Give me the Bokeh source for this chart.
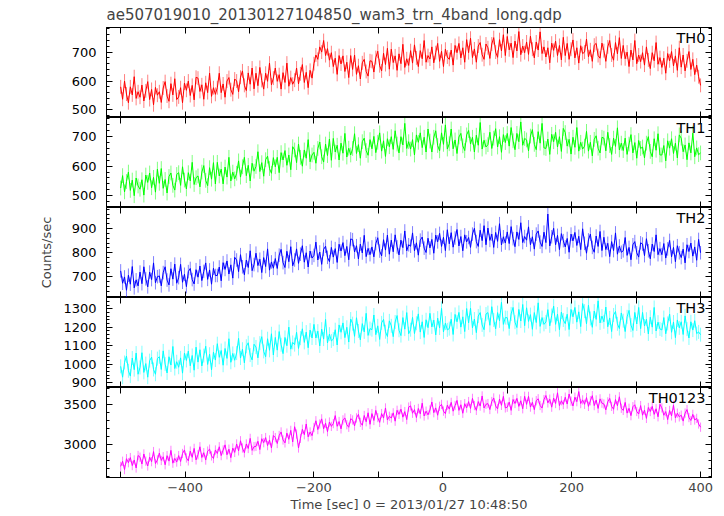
from bokeh.plotting import figure
from bokeh.models import Range1d, LinearAxis, SingleIntervalTicker, Label, CustomJSTickFormatter
from bokeh.layouts import column
from bokeh.embed import file_html
from bokeh.resources import INLINE

title_text = "ae507019010_20130127104850_wam3_trn_4band_long.qdp"
x_label = "Time [sec] 0 = 2013/01/27 10:48:50"
y_label = "Counts/sec"

# time bins (sec), 3 s steps from -500 to 400
time = list(range(-500, 401, 3))

th0 = [580, 537, 600, 555, 525, 580, 552, 615, 540, 563,
       544, 586, 531, 566, 598, 536, 571, 518, 578, 551,
       563, 526, 576, 598, 548, 530, 591, 552, 608, 536,
       545, 577, 525, 593, 568, 600, 550, 585, 535, 613,
       610, 564, 587, 537, 594, 560, 627, 547, 577, 554,
       577, 627, 560, 590, 544, 600, 612, 570, 554, 607,
       600, 563, 613, 635, 585, 567, 628, 589, 645, 573,
       627, 584, 647, 602, 572, 627, 599, 662, 587, 610,
       645, 599, 622, 572, 629, 595, 662, 582, 612, 589,
       603, 645, 590, 625, 657, 595, 630, 577, 637, 610,
       660, 690, 675, 718, 700, 740, 688, 712, 672, 698,
       650, 679, 623, 688, 659, 687, 633, 665, 612, 688,
       640, 690, 623, 653, 607, 663, 675, 633, 617, 670,
       668, 631, 681, 703, 653, 635, 696, 657, 713, 641,
       710, 664, 687, 637, 694, 660, 727, 647, 677, 654,
       705, 662, 725, 680, 650, 705, 677, 740, 665, 688,
       676, 718, 663, 698, 730, 668, 703, 650, 710, 683,
       675, 707, 655, 723, 698, 730, 680, 715, 665, 743,
       698, 748, 681, 711, 665, 721, 733, 691, 675, 728,
       715, 678, 728, 750, 700, 682, 743, 704, 760, 688,
       754, 708, 731, 681, 738, 704, 771, 691, 721, 698,
       735, 692, 755, 710, 680, 735, 707, 770, 695, 718,
       683, 715, 663, 731, 706, 738, 688, 723, 673, 751,
       688, 730, 675, 710, 742, 680, 715, 662, 722, 695,
       700, 745, 684, 708, 668, 724, 730, 688, 679, 731,
       705, 668, 718, 740, 690, 672, 733, 694, 750, 678,
       723, 677, 700, 650, 707, 673, 740, 660, 690, 667,
       698, 655, 718, 673, 643, 698, 670, 733, 658, 681,
       647, 679, 627, 695, 670, 702, 652, 687, 637, 715,
       648, 690, 635, 670, 702, 640, 675, 622, 655, 615,
       585]

th1 = [526, 568, 513, 548, 580, 518, 553, 500, 560, 533,
       522, 554, 502, 570, 545, 577, 527, 562, 512, 590,
       542, 592, 525, 555, 509, 565, 577, 535, 519, 572,
       578, 535, 598, 553, 523, 578, 550, 613, 538, 561,
       567, 530, 580, 602, 552, 534, 595, 556, 612, 540,
       613, 567, 590, 540, 597, 563, 630, 550, 580, 557,
       576, 618, 563, 598, 630, 568, 603, 550, 610, 583,
       599, 649, 582, 612, 566, 622, 634, 592, 576, 629,
       598, 630, 578, 646, 621, 653, 603, 638, 588, 666,
       655, 612, 675, 630, 600, 655, 627, 690, 615, 638,
       647, 610, 660, 682, 632, 614, 675, 636, 692, 620,
       694, 648, 671, 621, 678, 644, 711, 631, 661, 638,
       660, 710, 643, 673, 627, 683, 695, 653, 637, 690,
       659, 701, 646, 681, 713, 651, 686, 633, 693, 666,
       700, 657, 720, 675, 645, 700, 672, 745, 660, 683,
       658, 690, 638, 706, 681, 713, 663, 698, 648, 726,
       685, 648, 698, 720, 670, 652, 713, 674, 740, 658,
       676, 726, 659, 689, 643, 699, 711, 669, 653, 706,
       721, 675, 698, 648, 705, 671, 748, 658, 688, 665,
       673, 715, 660, 695, 727, 665, 700, 647, 707, 680,
       711, 668, 731, 686, 656, 711, 683, 750, 671, 694,
       689, 652, 702, 724, 674, 656, 717, 678, 745, 662,
       660, 692, 640, 708, 683, 715, 665, 700, 650, 728,
       714, 668, 691, 641, 698, 664, 731, 651, 681, 658,
       668, 718, 651, 681, 635, 691, 703, 661, 645, 698,
       695, 652, 715, 670, 640, 695, 667, 730, 655, 678,
       653, 695, 640, 675, 707, 645, 680, 627, 687, 660,
       665, 628, 678, 700, 650, 632, 693, 654, 710, 638,
       638, 670, 618, 686, 661, 693, 643, 678, 628, 706,
       695, 649, 672, 622, 679, 645, 712, 632, 662, 639,
       645]

th2 = [725, 674, 700, 645, 707, 670, 743, 655, 688, 663,
       720, 672, 742, 692, 659, 720, 689, 758, 676, 701,
       704, 663, 718, 742, 687, 667, 734, 691, 753, 674,
       697, 752, 678, 711, 660, 722, 735, 689, 671, 730,
       699, 745, 685, 723, 758, 690, 729, 670, 736, 706,
       706, 741, 684, 759, 731, 766, 712, 750, 695, 781,
       770, 722, 792, 742, 709, 770, 739, 808, 726, 751,
       798, 747, 773, 718, 780, 743, 816, 728, 762, 736,
       776, 735, 790, 814, 759, 739, 806, 763, 825, 746,
       770, 816, 756, 794, 829, 761, 800, 741, 807, 778,
       789, 844, 770, 803, 752, 814, 827, 781, 763, 822,
       782, 817, 760, 835, 807, 842, 788, 826, 771, 857,
       854, 803, 829, 774, 836, 799, 872, 784, 818, 792,
       824, 783, 838, 862, 807, 787, 854, 811, 873, 794,
       852, 804, 874, 824, 791, 852, 821, 890, 808, 833,
       827, 882, 808, 841, 790, 852, 865, 819, 801, 860,
       820, 855, 798, 873, 845, 880, 826, 864, 809, 895,
       837, 883, 823, 861, 896, 828, 867, 808, 874, 845,
       863, 822, 877, 901, 846, 826, 893, 850, 912, 833,
       902, 851, 877, 822, 884, 847, 920, 832, 866, 840,
       886, 838, 908, 858, 825, 886, 855, 924, 842, 867,
       852, 907, 833, 866, 815, 877, 890, 844, 826, 885,
       842, 960, 828, 866, 901, 833, 872, 813, 879, 850,
       824, 859, 802, 877, 849, 884, 830, 868, 813, 899,
       839, 798, 853, 877, 822, 802, 869, 826, 888, 809,
       864, 813, 839, 784, 846, 809, 882, 794, 828, 802,
       808, 863, 789, 822, 771, 833, 846, 800, 782, 841,
       836, 788, 858, 808, 775, 836, 805, 874, 792, 817,
       792, 838, 778, 816, 851, 783, 822, 763, 829, 800,
       780, 815, 758, 833, 805, 840, 786, 824, 769, 855,
       800]

th3 = [988, 929, 1009, 1044, 964, 935, 1033, 970, 1060, 945,
       982, 1062, 955, 1003, 929, 1019, 1038, 971, 945, 1030,
       1040, 971, 1072, 1000, 952, 1040, 995, 1096, 976, 1013,
       983, 1034, 951, 1060, 1020, 1071, 991, 1047, 967, 1092,
       1011, 1078, 990, 1046, 1097, 998, 1054, 969, 1065, 1022,
       1111, 1037, 1074, 994, 1085, 1031, 1138, 1010, 1058, 1021,
       1060, 1140, 1033, 1081, 1007, 1097, 1116, 1049, 1023, 1108,
       1093, 1034, 1114, 1149, 1069, 1040, 1138, 1075, 1165, 1050,
       1145, 1076, 1177, 1105, 1057, 1145, 1100, 1201, 1081, 1118,
       1106, 1173, 1085, 1141, 1192, 1118, 1174, 1089, 1185, 1142,
       1216, 1142, 1179, 1099, 1190, 1136, 1243, 1115, 1163, 1126,
       1136, 1187, 1104, 1213, 1173, 1224, 1144, 1200, 1120, 1245,
       1220, 1151, 1252, 1180, 1132, 1220, 1175, 1276, 1156, 1193,
       1187, 1267, 1160, 1208, 1134, 1224, 1243, 1176, 1150, 1235,
       1208, 1149, 1229, 1264, 1184, 1155, 1253, 1190, 1280, 1165,
       1187, 1254, 1166, 1222, 1273, 1174, 1230, 1145, 1241, 1198,
       1276, 1202, 1239, 1159, 1250, 1196, 1303, 1175, 1223, 1186,
       1193, 1244, 1161, 1270, 1230, 1281, 1201, 1257, 1177, 1302,
       1224, 1304, 1197, 1245, 1171, 1261, 1280, 1213, 1187, 1272,
       1280, 1211, 1312, 1240, 1192, 1280, 1235, 1336, 1216, 1253,
       1252, 1193, 1273, 1308, 1228, 1199, 1297, 1234, 1324, 1209,
       1306, 1232, 1269, 1189, 1280, 1226, 1333, 1205, 1253, 1216,
       1229, 1296, 1208, 1264, 1315, 1216, 1272, 1187, 1283, 1240,
       1220, 1271, 1188, 1297, 1257, 1308, 1228, 1284, 1204, 1329,
       1288, 1219, 1320, 1248, 1200, 1288, 1243, 1344, 1224, 1261,
       1230, 1310, 1203, 1251, 1177, 1267, 1286, 1219, 1193, 1278,
       1236, 1177, 1257, 1292, 1212, 1183, 1281, 1218, 1308, 1193,
       1281, 1207, 1244, 1164, 1255, 1201, 1308, 1180, 1228, 1191,
       1186, 1253, 1165, 1221, 1272, 1173, 1229, 1144, 1240, 1197,
       1230, 1161, 1262, 1190, 1142, 1230, 1185, 1236, 1166, 1175,
       1160]

th0123 = [2730, 2794, 2690, 2826, 2776, 2840, 2740, 2810, 2710, 2866,
          2845, 2759, 2885, 2795, 2735, 2845, 2789, 2915, 2765, 2811,
          2896, 2804, 2850, 2750, 2864, 2796, 2930, 2770, 2830, 2784,
          2865, 2791, 2891, 2935, 2835, 2799, 2921, 2843, 2955, 2811,
          2875, 2975, 2841, 2901, 2809, 2921, 2945, 2861, 2829, 2935,
          2891, 2975, 2865, 2935, 2999, 2875, 2945, 2839, 2959, 2905,
          3010, 2924, 3050, 2960, 2900, 3010, 2954, 3080, 2930, 2976,
          2980, 3044, 2940, 3076, 3026, 3090, 2990, 3060, 2960, 3116,
          3090, 3016, 3116, 3160, 3060, 3024, 3146, 3068, 3180, 3036,
          3226, 3134, 2960, 3080, 3194, 3126, 3260, 3100, 3160, 3114,
          3216, 3300, 3190, 3260, 3324, 3200, 3270, 3164, 3284, 3230,
          3265, 3365, 3231, 3291, 3199, 3311, 3335, 3251, 3219, 3325,
          3310, 3236, 3336, 3380, 3280, 3244, 3366, 3288, 3400, 3256,
          3390, 3304, 3430, 3340, 3280, 3390, 3334, 3460, 3310, 3356,
          3335, 3399, 3295, 3431, 3381, 3445, 3345, 3415, 3315, 3471,
          3486, 3394, 3440, 3340, 3454, 3386, 3520, 3360, 3420, 3374,
          3435, 3535, 3401, 3461, 3369, 3481, 3505, 3421, 3389, 3495,
          3446, 3530, 3420, 3490, 3554, 3430, 3500, 3394, 3514, 3460,
          3540, 3454, 3580, 3490, 3430, 3540, 3484, 3610, 3460, 3506,
          3515, 3441, 3541, 3585, 3485, 3449, 3571, 3493, 3605, 3461,
          3470, 3534, 3430, 3566, 3516, 3580, 3480, 3550, 3450, 3606,
          3505, 3605, 3471, 3531, 3439, 3551, 3575, 3491, 3459, 3565,
          3616, 3524, 3570, 3470, 3584, 3516, 3650, 3490, 3550, 3504,
          3595, 3509, 3635, 3545, 3485, 3595, 3539, 3665, 3515, 3561,
          3506, 3590, 3480, 3550, 3614, 3490, 3560, 3454, 3574, 3520,
          3510, 3436, 3536, 3580, 3480, 3444, 3566, 3488, 3600, 3456,
          3430, 3530, 3396, 3456, 3364, 3476, 3500, 3416, 3384, 3490,
          3370, 3434, 3330, 3466, 3416, 3480, 3380, 3450, 3350, 3506,
          3461, 3369, 3415, 3315, 3429, 3361, 3495, 3335, 3395, 3349,
          3370, 3296, 3396, 3440, 3340, 3304, 3380, 3310, 3330, 3260,
          3220]

series = [th0, th1, th2, th3, th0123]
names = ["TH0", "TH1", "TH2", "TH3", "TH0123"]
errors = [24, 25, 28, 38, 58]          # typical 1-sigma error per bin
y_limits = [(474, 785), (460, 765), (615, 987), (873, 1362), (2591, 3716)]
y_major = [100, 100, 100, 100, 500]
y_minor = [5, 5, 5, 5, 5]
x_limits = (-522, 417)
x_tick_labels = {-500: "", -400: "\u2212400", -300: "", -200: "\u2212200", -100: "",
                 0: "0", 100: "", 200: "200", 300: "", 400: "400"}

colors = ["#ff0000", "#00ff00", "#0000ff", "#00ffff", "#ff00ff"]
FONT = "DejaVu Sans"


def blank():
    return CustomJSTickFormatter(code="return ''")


figs = []
n = len(series)
for i in range(n):
    last = (i == n - 1)
    first = (i == 0)
    p = figure(frame_width=605, frame_height=90,
               x_range=Range1d(*x_limits), y_range=Range1d(*y_limits[i]),
               output_backend="svg", toolbar_location=None,
               min_border_left=106, min_border_right=12,
               min_border_top=0, min_border_bottom=0,
               background_fill_color="white", border_fill_color="white",
               outline_line_color="black", outline_line_width=1)
    p.grid.visible = False

    ys = series[i]
    lo = [v - errors[i] for v in ys]
    hi = [v + errors[i] for v in ys]
    p.segment(x0=time, y0=lo, x1=time, y1=hi, line_color=colors[i],
              line_alpha=0.5, line_width=1)
    p.line(time, ys, line_color=colors[i], line_width=1)

    ya = p.yaxis[0]
    ya.ticker = SingleIntervalTicker(interval=y_major[i], num_minor_ticks=y_minor[i])
    ya.major_tick_in = 6
    ya.major_tick_out = 0
    ya.minor_tick_in = 3
    ya.minor_tick_out = 0
    ya.major_label_standoff = 10
    ya.major_label_text_font = FONT
    ya.major_label_text_font_size = "13px"
    ya.major_label_text_line_height = 0.75
    ya.major_label_text_color = "black"
    ya.axis_line_color = "black"
    if i == 2:
        ya.axis_label = y_label
        ya.axis_label_text_font = FONT
        ya.axis_label_text_font_size = "13px"
        ya.axis_label_text_font_style = "normal"
        ya.axis_label_standoff = 15

    ra = LinearAxis(ticker=SingleIntervalTicker(interval=y_major[i], num_minor_ticks=y_minor[i]),
                    formatter=blank(),
                    major_tick_in=6, major_tick_out=0, minor_tick_in=3, minor_tick_out=0,
                    major_label_text_font_size="0px", major_label_standoff=0,
                    axis_line_color="black")
    p.add_layout(ra, "right")

    xa = p.xaxis[0]
    xa.ticker = SingleIntervalTicker(interval=100, num_minor_ticks=0)
    xa.major_tick_in = 6
    xa.major_tick_out = 0
    xa.axis_line_color = "black"
    if last:
        xa.major_label_overrides = x_tick_labels
        xa.major_label_text_font = FONT
        xa.major_label_text_font_size = "13px"
        xa.major_label_standoff = 5
        xa.axis_label = x_label
        xa.axis_label_text_font = FONT
        xa.axis_label_text_font_size = "13px"
        xa.axis_label_text_font_style = "normal"
        xa.axis_label_standoff = 2
    else:
        xa.formatter = blank()
        xa.major_label_text_font_size = "0px"
        xa.major_label_standoff = 0

    ta = LinearAxis(ticker=SingleIntervalTicker(interval=100, num_minor_ticks=0),
                    formatter=blank(),
                    major_tick_in=6, major_tick_out=0,
                    major_label_text_font_size="0px", major_label_standoff=0,
                    axis_line_color="black")
    p.add_layout(ta, "above")

    if first:
        p.title.text = title_text
        p.title.text_font = FONT
        p.title.text_font_size = "15px"
        p.title.text_font_style = "normal"
        p.title.standoff = 7

    lab = Label(x=x_limits[1], y=y_limits[i][1], text=names[i], text_align="right",
                text_baseline="top", x_offset=-6, y_offset=-2,
                text_font=FONT, text_font_size="14.5px", text_color="black")
    p.add_layout(lab)
    figs.append(p)

layout = column(*figs, spacing=0)
open("out.html", "w").write(file_html(layout, INLINE))
